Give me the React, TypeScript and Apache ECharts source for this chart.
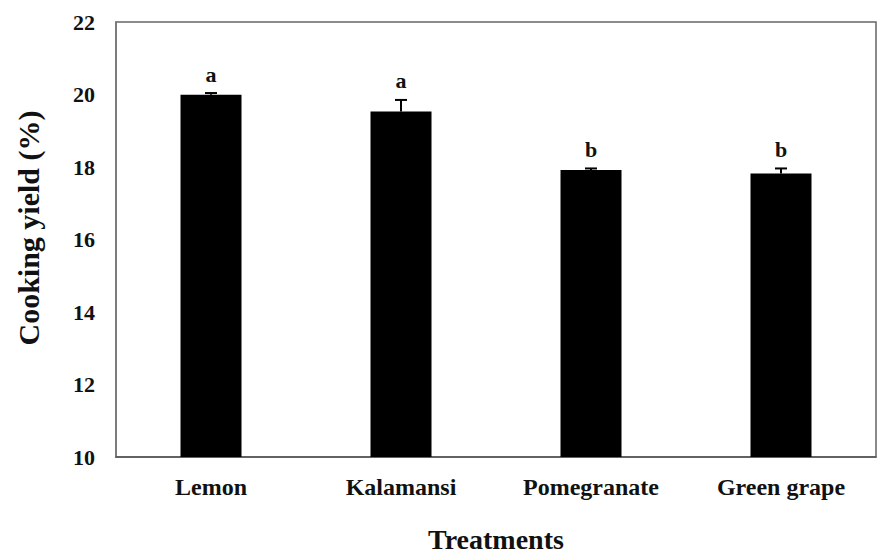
import React, { useEffect, useRef } from "react";
import * as echarts from "echarts";

const categories = ["Lemon", "Kalamansi", "Pomegranate", "Green grape"];
const means = [19.99, 19.53, 17.92, 17.82];
const errors = [0.05, 0.32, 0.04, 0.14];
const letters = ["a", "a", "b", "b"];
const yTicks = { min: 10, max: 22, interval: 2 };

const FONT = "'Liberation Serif', 'Times New Roman', serif";

export default function App() {
  const ref = useRef<HTMLDivElement>(null);
  useEffect(() => {
    if (!ref.current) return;
    const chart = echarts.init(ref.current, undefined, { renderer: "svg" });
    chart.setOption({
      animation: false,
      grid: {
        left: 116,
        right: 1,
        top: 22,
        bottom: 98,
        show: true,
        borderColor: "#666",
        borderWidth: 1.5,
        containLabel: false,
        outerBoundsMode: "none",
      },
      xAxis: {
        type: "category",
        data: categories,
        axisLine: { show: true, lineStyle: { color: "#555", width: 1.5 } },
        axisTick: { show: false },
        axisLabel: {
          color: "#111",
          fontFamily: FONT,
          fontWeight: "bold",
          fontSize: 24,
          margin: 18,
        },
        name: "Treatments",
        nameLocation: "middle",
        nameGap: 68,
        nameTextStyle: {
          color: "#111",
          fontFamily: FONT,
          fontWeight: "bold",
          fontSize: 28,
        },
      },
      yAxis: {
        type: "value",
        min: yTicks.min,
        max: yTicks.max,
        interval: yTicks.interval,
        splitLine: { show: false },
        axisLine: { show: true, lineStyle: { color: "#777", width: 1.5 } },
        axisTick: { show: false },
        axisLabel: {
          color: "#111",
          fontFamily: FONT,
          fontWeight: "bold",
          fontSize: 22,
          margin: 21,
        },
      },
      graphic: [
        {
          type: "text",
          x: 28,
          y: 228,
          rotation: Math.PI / 2,
          style: {
            text: "Cooking yield (%)",
            fontFamily: FONT,
            fontWeight: "bold",
            fontSize: 30,
            fill: "#111",
            align: "center",
            verticalAlign: "middle",
          },
        },
      ],
      series: [
        {
          type: "bar",
          data: means,
          barWidth: 61,
          itemStyle: { color: "#000" },
        },
        {
          type: "custom",
          data: means.map((m, i) => [i, m, errors[i]]),
          renderItem: (params: any, api: any) => {
            const idx = api.value(0);
            const m = api.value(1);
            const e = api.value(2);
            const base = api.coord([idx, m]);
            const top = api.coord([idx, m + e]);
            const half = 6;
            return {
              type: "group",
              children: [
                {
                  type: "line",
                  shape: { x1: top[0], y1: base[1], x2: top[0], y2: top[1] },
                  style: { stroke: "#000", lineWidth: 2 },
                },
                {
                  type: "line",
                  shape: { x1: top[0] - half, y1: top[1], x2: top[0] + half, y2: top[1] },
                  style: { stroke: "#000", lineWidth: 2 },
                },
                {
                  type: "text",
                  x: top[0],
                  y: top[1] - 8,
                  style: {
                    text: letters[params.dataIndex],
                    fontFamily: FONT,
                    fontWeight: "bold",
                    fontSize: 22,
                    fill: "#111",
                    align: "center",
                    verticalAlign: "bottom",
                  },
                },
              ],
            };
          },
          z: 5,
        },
      ],
    });
    return () => chart.dispose();
  }, []);
  return <div ref={ref} style={{ width: 877, height: 555, position: "absolute", left: 0, top: 0 }} />;
}
